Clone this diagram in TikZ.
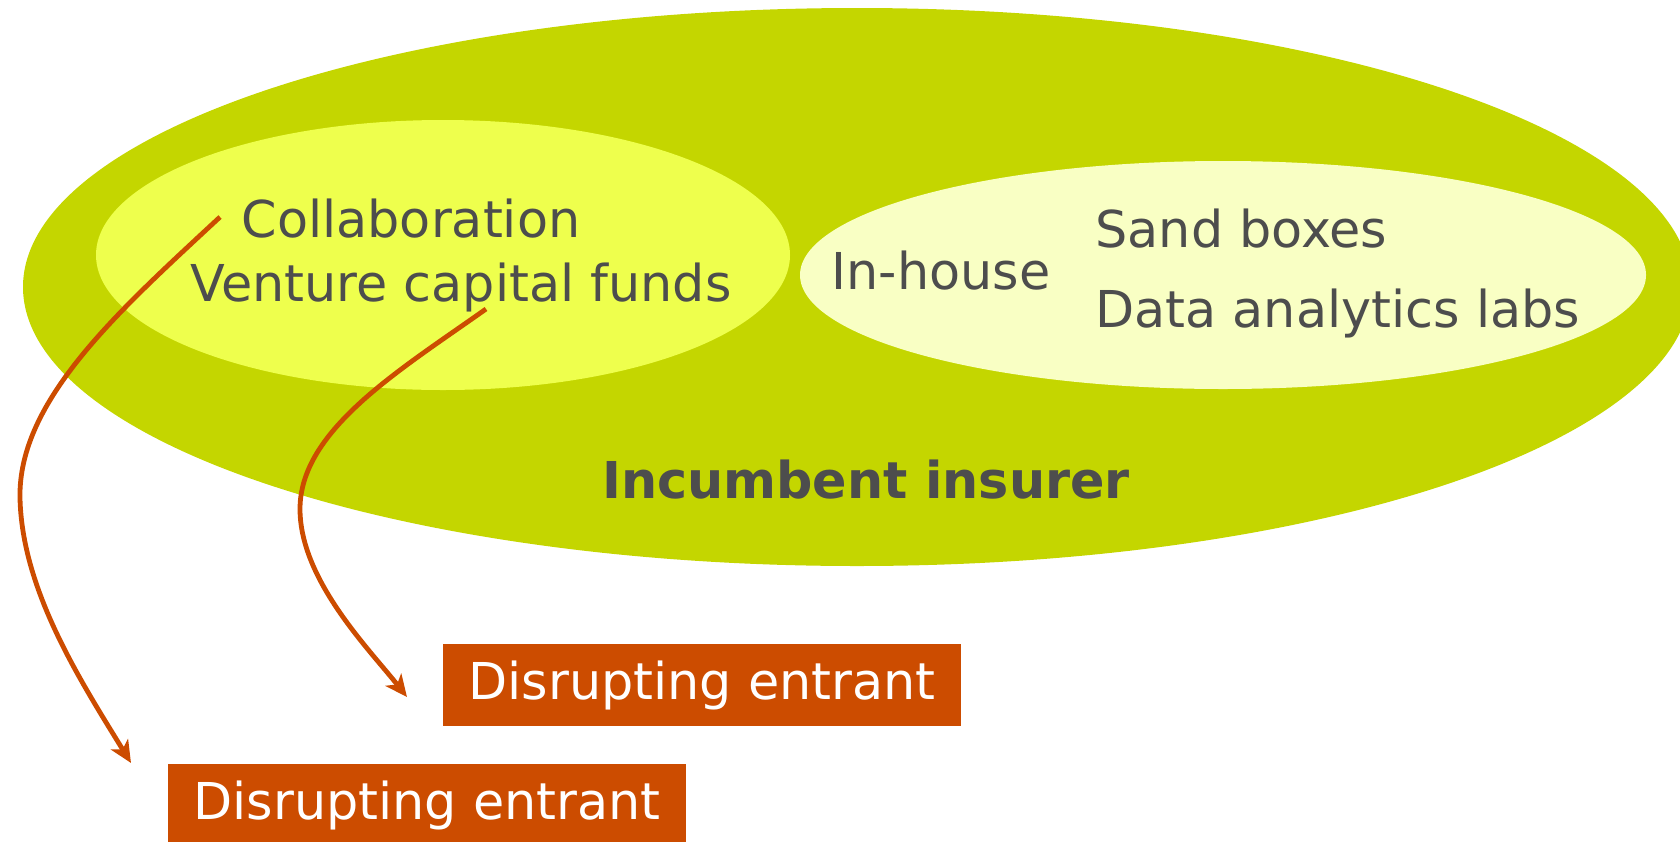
\documentclass[tikz,border=0pt]{standalone}
\usepackage{xcolor}
\usepackage{fontspec}
\setmainfont{DejaVu Sans}
\usepackage{tikz}
\usetikzlibrary{arrows.meta}

\definecolor{outergreen}{RGB}{196,214,0}
\definecolor{brightyellow}{RGB}{238,255,77}
\definecolor{paleyellow}{RGB}{249,255,196}
\definecolor{textgray}{RGB}{77,77,77}
\definecolor{burnt}{RGB}{204,76,0}

\tikzset{
  label/.style={anchor=base, text=textgray, font=\fontsize{25.4}{30}\selectfont, inner sep=0pt},
  entrant/.style={fill=burnt, text=white, font=\fontsize{25.4}{30}\selectfont,
                  minimum width=259, minimum height=41, inner sep=0pt},
  link/.style={draw=burnt, line width=2.4pt, -{Stealth[length=11pt, width=10pt, inset=3pt]}}
}

\begin{document}
\begin{tikzpicture}[x=0.5pt, y=-0.5pt]
            \useasboundingbox (0,0) rectangle (1680,841);
            \clip (0,0) rectangle (1680,841);

            % the three ellipses
            \fill[outergreen] (857,287) ellipse [x radius=834, y radius=279];
            \fill[brightyellow] (443,255) ellipse [x radius=347, y radius=135];
            \fill[paleyellow] (1223,275) ellipse [x radius=423, y radius=114];

            \node[label] (collab) at (411,237) {Collaboration};
            \node[label] (venture) at (461,301) {Venture capital funds};
            \node[label] (inhouse) at (941,289) {In-house};
            \node[label, anchor=base west] (sandbox) at (1095,247) {Sand boxes};
            \node[label, anchor=base west] (datalabs) at (1095,327) {Data analytics labs};
            \node[label, font=\fontsize{25.4}{30}\selectfont\bfseries] (insurer) at (866,498) {Incumbent insurer};

            % entrants
            \node[entrant] (entrantA) at (702,685) {Disrupting entrant};
            \node[entrant] (entrantB) at (427,805) {Disrupting entrant};

            \coordinate (startA) at (220,217);
            \coordinate (startB) at (486,309);
            \coordinate (tipA) at (131,763);
            \coordinate (tipB) at (407,697);

            \draw[link] (startA) .. controls (120,310) and (18,400) .. (20,498)
                                 .. controls (22,590) and (80,680) .. (tipA); % collaboration
            \draw[link] (startB) .. controls (400,370) and (300,430) .. (300,509)
                                 .. controls (300,580) and (370,650) .. (tipB); % venture funds
        \end{tikzpicture}
\end{document}
